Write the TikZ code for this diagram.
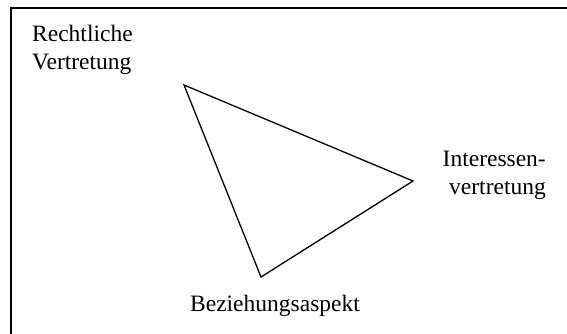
\documentclass[tikz,border=0pt]{standalone}
\usepackage{fontspec}
\setmainfont{Liberation Serif}
\begin{document}
\begin{tikzpicture}[x=1pt,y=-1pt,
  lbl/.style={inner sep=0pt,font=\fontsize{23.5}{27}\selectfont},
  frameline/.style={line width=1.6pt,black},
  edge/.style={line width=1.3pt,line join=miter,black}]
\useasboundingbox (0,0) rectangle (567,334);
\draw[frameline] (11,350) coordinate (fb) -- (11,8) coordinate (fc) -- (580,8) coordinate (fr);
\coordinate (A) at (184,85);
\coordinate (B) at (413,181);
\coordinate (C) at (261,277);
\draw[edge] (A) -- (B) -- (C) -- cycle;
\node[lbl,anchor=base west] (r1) at (32,42) {Rechtliche};
\node[lbl,anchor=base west] (r2) at (32,70) {Vertretung};
\node[lbl,anchor=base east] (i1) at (546,166) {Interessen-};
\node[lbl,anchor=base east] (i2) at (546,194) {vertretung};
\node[lbl,anchor=base] (b1) at (275,311) {Beziehungsaspekt};
\end{tikzpicture}
\end{document}
